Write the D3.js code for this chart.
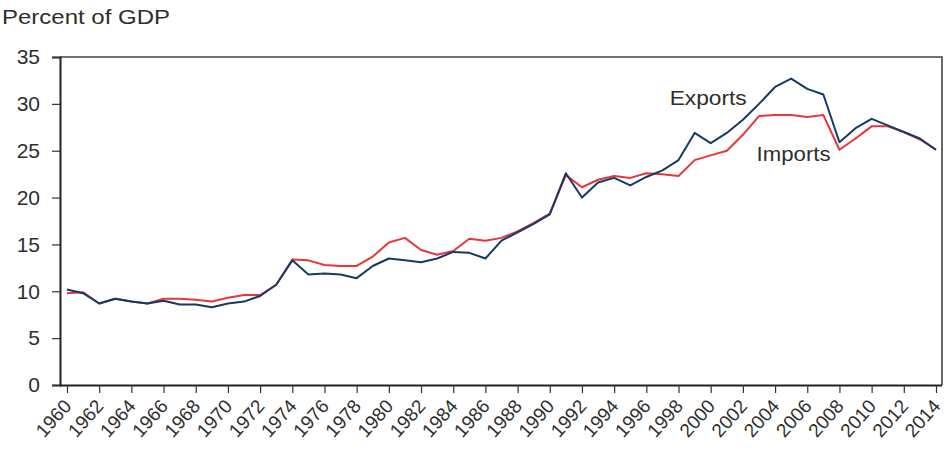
<!DOCTYPE html>
<html>
<head>
<meta charset="utf-8">
<script src="https://cdn.jsdelivr.net/npm/d3@7"></script>
<style>
  html, body { margin: 0; padding: 0; background: #fff; }
  svg { display: block; }
  text { font-family: "Liberation Sans", Arial, Helvetica, sans-serif; fill: #2e2e2e; }
</style>
</head>
<body>
<svg id="chart" width="946" height="450"></svg>
<script>
const years = d3.range(1960, 2015);
const exportsPct = [10.2, 9.8, 8.7, 9.2, 8.9, 8.7, 9.0, 8.6, 8.6, 8.3,
  8.7, 8.9, 9.5, 10.7, 13.3, 11.8, 11.9, 11.8, 11.4, 12.7,
  13.5, 13.3, 13.1, 13.5, 14.2, 14.1, 13.5, 15.4, 16.3, 17.2,
  18.2, 22.6, 20.0, 21.6, 22.1, 21.3, 22.2, 22.9, 24.0, 26.9,
  25.8, 26.9, 28.3, 30.0, 31.8, 32.7, 31.6, 31.0, 25.9, 27.4,
  28.4, 27.7, 27.0, 26.3, 25.1];
const importsPct = [9.8, 9.9, 8.7, 9.2, 8.9, 8.7, 9.2, 9.2, 9.1, 8.9,
  9.3, 9.6, 9.6, 10.7, 13.4, 13.3, 12.8, 12.7, 12.7, 13.7,
  15.2, 15.7, 14.4, 13.9, 14.3, 15.6, 15.4, 15.7, 16.4, 17.3,
  18.3, 22.4, 21.1, 21.9, 22.3, 22.1, 22.6, 22.5, 22.3, 24.0,
  24.5, 25.0, 26.7, 28.7, 28.8, 28.8, 28.6, 28.8, 25.1, 26.3,
  27.6, 27.6, 27.0, 26.2, 25.1];
const yTicks = [0, 5, 10, 15, 20, 25, 30, 35];
const xTicks = d3.range(1960, 2015, 2);
const yAxisTitle = "Percent of GDP";
const seriesLabels = ["Exports", "Imports"];

const svg = d3.select("#chart");
const mLeft = 60, mRight = 942, mTop = 57, mBottom = 385;

const x = d3.scaleLinear().domain([1960, 2014]).range([67, 936]);
const y = d3.scaleLinear().domain([0, 35]).range([mBottom, mTop]);

// frame: top and right
svg.append("path")
  .attr("d", `M${mLeft},${mTop}H${mRight}V${mBottom}`)
  .attr("fill", "none").attr("stroke", "#444").attr("stroke-width", 1.6);

// y axis
const yAxis = svg.append("g").attr("transform", `translate(${mLeft},0)`)
  .call(d3.axisLeft(y).tickValues(yTicks).tickSize(8).tickPadding(12).tickFormat(d3.format("d")));
yAxis.select(".domain").attr("stroke", "#222").attr("stroke-width", 2);
yAxis.selectAll(".tick line").attr("stroke", "#333").attr("stroke-width", 1.2);
yAxis.selectAll(".tick text").attr("font-size", 21).attr("fill", "#2e2e2e");

// x axis
const xAxis = svg.append("g").attr("transform", `translate(0,${mBottom})`)
  .call(d3.axisBottom(x).tickValues(xTicks).tickSize(8).tickSizeOuter(0).tickFormat(d3.format("d")));
xAxis.select(".domain").attr("d", `M${mLeft},0.5H${mRight}`).attr("stroke", "#222").attr("stroke-width", 2);
xAxis.selectAll(".tick line").attr("stroke", "#333").attr("stroke-width", 1.2);
xAxis.selectAll(".tick text")
  .attr("font-size", 19)
  .attr("text-anchor", "end")
  .attr("dy", null).attr("y", 0)
  .attr("transform", "translate(5,22) rotate(-48)");

// title
svg.append("text").attr("x", 2).attr("y", 24).attr("font-size", 20)
  .attr("fill", "#3a3a3a")
  .attr("textLength", 168).attr("lengthAdjust", "spacingAndGlyphs")
  .text(yAxisTitle);

// lines
const line = d3.line().x((d, i) => x(years[i])).y(d => y(d));
svg.append("path").datum(importsPct).attr("d", line)
  .attr("fill", "none").attr("stroke", "#e8363a").attr("stroke-width", 2).attr("stroke-linejoin", "round");
svg.append("path").datum(exportsPct).attr("d", line)
  .attr("fill", "none").attr("stroke", "#143a66").attr("stroke-width", 2).attr("stroke-linejoin", "round");

// annotations
svg.append("text").attr("x", x(1997.45)).attr("y", y(29.9)).attr("font-size", 20)
  .attr("textLength", 77).attr("lengthAdjust", "spacingAndGlyphs")
  .text(seriesLabels[0]);
svg.append("text").attr("x", x(2002.85)).attr("y", y(23.9)).attr("font-size", 20)
  .attr("textLength", 74).attr("lengthAdjust", "spacingAndGlyphs")
  .text(seriesLabels[1]);
</script>
</body>
</html>
